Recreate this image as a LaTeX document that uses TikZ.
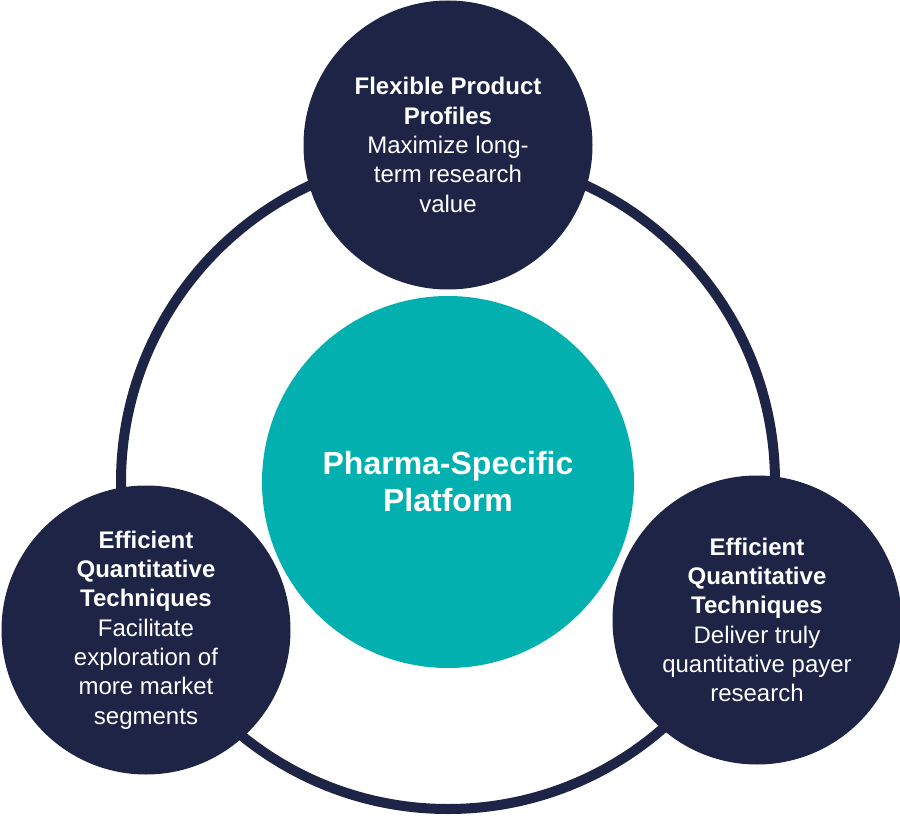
\documentclass[tikz,border=0pt]{standalone}
\usepackage{fontspec}
\setmainfont{Liberation Sans}
\definecolor{navy}{HTML}{1D2446}
\definecolor{hubteal}{HTML}{02B0B0}

\begin{document}
\begin{tikzpicture}[line cap=round,line join=round,x=0.75pt,y=-0.75pt,
	spoke/.style={circle,fill=navy,minimum size=216.75pt,inner sep=0pt,text=white,align=center,font=\fontsize{18}{22}\selectfont},
	hub/.style={circle,fill=hubteal,minimum size=279pt,inner sep=0pt,text=white,align=center,font=\fontsize{24}{27.75}\selectfont\bfseries},
	ring/.style={draw=navy,line width=7.5pt}]
	\fill[white] (0,0) rectangle (900,820);
	\useasboundingbox (0,0) rectangle (900,820);
	% ring behind everything
	\coordinate (mid) at (448,482);
	\draw[ring] (mid) circle[radius=245.25pt];
	% centre
	\node[hub] (platform) at (mid) {Pharma-Specific\\Platform};
	% three outer circles
	\node[spoke] (profiles) at (448,145) {\textbf{Flexible Product}\\\textbf{Profiles}\\Maximize long-\\term research\\value};
	\node[spoke] (segments) at (146,630) {\textbf{Efficient}\\\textbf{Quantitative}\\\textbf{Techniques}\\Facilitate\\exploration of\\more market\\segments};
	\node[spoke] (payer) at (757,620) {\textbf{Efficient}\\\textbf{Quantitative}\\\textbf{Techniques}\\Deliver truly\\quantitative payer\\research};
\end{tikzpicture}
\end{document}
